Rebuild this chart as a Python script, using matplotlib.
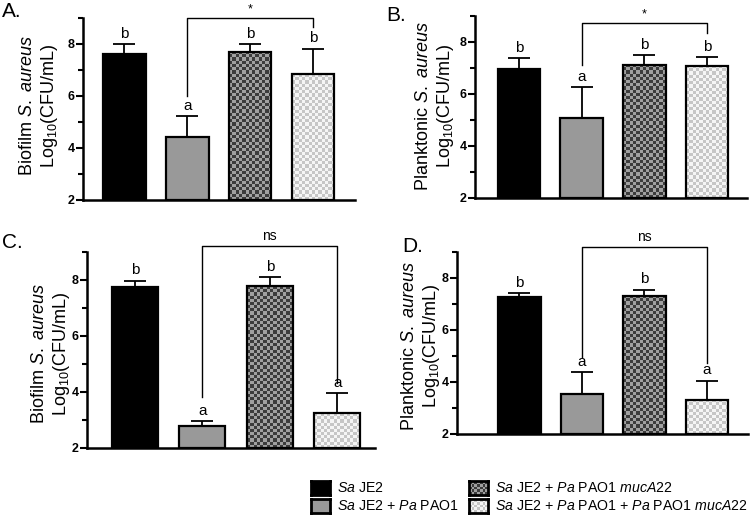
import matplotlib
matplotlib.use('Agg')
import matplotlib.pyplot as plt
import numpy as np
from matplotlib.colors import ListedColormap
from matplotlib.patches import Rectangle

plt.rcParams['font.family'] = ['Liberation Sans', 'DejaVu Sans']
plt.rcParams['mathtext.fontset'] = 'custom'
plt.rcParams['mathtext.rm'] = 'Liberation Sans'
plt.rcParams['mathtext.it'] = 'Liberation Sans:italic'
plt.rcParams['mathtext.bf'] = 'Liberation Sans:bold'

# data
groups = ['$\\mathit{Sa}$ JE2',
          '$\\mathit{Sa}$ JE2 + $\\mathit{Pa}$ PAO1',
          '$\\mathit{Sa}$ JE2 + $\\mathit{Pa}$ PAO1 $\\mathit{mucA22}$',
          '$\\mathit{Sa}$ JE2 + $\\mathit{Pa}$ PAO1 + $\\mathit{Pa}$ PAO1 $\\mathit{mucA22}$']

mean_A = [7.62, 4.44, 7.70, 6.84]
err_A = [0.38, 0.78, 0.30, 0.97]
mean_B = [6.96, 5.08, 7.12, 7.08]
err_B = [0.42, 1.19, 0.38, 0.34]
mean_C = [7.75, 2.79, 7.78, 3.25]
err_C = [0.22, 0.17, 0.32, 0.71]
mean_D = [7.27, 3.54, 7.31, 3.31]
err_D = [0.15, 0.84, 0.23, 0.73]

letters_A = ['b', 'a', 'b', 'b']
letters_B = ['b', 'a', 'b', 'b']
letters_C = ['b', 'a', 'b', 'a']
letters_D = ['b', 'a', 'b', 'a']

# bracket: (left bar, right bar, left foot, top, right foot, label)
bracket_A = (1, 3, 6.0, 9.0, 8.65, '*')
bracket_B = (1, 3, 7.1, 8.73, 8.35, '*')
bracket_C = (1, 3, 3.82, 9.21, 4.32, 'ns')
bracket_D = (1, 3, 4.96, 9.19, 4.73, 'ns')

ylabel_biofilm = 'Biofilm $\\mathit{S.\\ aureus}$\nLog$_{10}$(CFU/mL)'
ylabel_plank = 'Planktonic $\\mathit{S.\\ aureus}$\nLog$_{10}$(CFU/mL)'

W, H = 750, 515
fig = plt.figure(figsize=(W / 100, H / 100), dpi=100)

fills = [('solid', '#000000'), ('solid', '#999999'),
         ('check', ('#3c3c3c', '#a0a0a0')), ('check', ('#c6c6c6', '#f5f5f5'))]


def px_axes(left, top, right, bottom):
    return fig.add_axes([left / W, 1 - bottom / H, (right - left) / W, (bottom - top) / H])


def checker(ax, x0, y0, w, h, colors, cell=3.2, clip=None, z=2):
    p0 = ax.transData.transform((x0, y0))
    p1 = ax.transData.transform((x0 + w, y0 + h))
    nx = max(1, int(round(abs(p1[0] - p0[0]) / cell)))
    ny = max(1, int(round(abs(p1[1] - p0[1]) / cell)))
    grid = np.add.outer(np.arange(ny), np.arange(nx)) % 2
    im = ax.imshow(grid, cmap=ListedColormap(list(colors)), extent=(x0, x0 + w, y0, y0 + h),
                   aspect='auto', interpolation='nearest', zorder=z, origin='lower')
    if clip is not None:
        im.set_clip_path(clip)
    return im


def panel(box, xlim, means, errs, letters, bracket, ylabel, label_xy, tag, tag_xy):
    ax = px_axes(*box)
    ax.set_xlim(*xlim)
    ax.set_ylim(2, 9)
    x = np.arange(4)
    width = 0.68
    bars = ax.bar(x, [m - 2 for m in means], width, bottom=2, color='none',
                  edgecolor='black', linewidth=1.6, zorder=3)
    for b, (kind, col) in zip(bars, fills):
        if kind == 'solid':
            b.set_facecolor(col)
        else:
            checker(ax, b.get_x(), b.get_y(), b.get_width(), b.get_height(), col, clip=b)
    ax.set_xlim(*xlim)
    ax.set_ylim(2, 9)
    ax.errorbar(x, means, yerr=[np.zeros(4), errs], fmt='none', ecolor='black',
                elinewidth=1.3, capsize=8, capthick=1.3, zorder=2)
    for xi, m, e, t in zip(x, means, errs, letters):
        ax.annotate(t, (xi, m + e), xytext=(0, 2.5), textcoords='offset points',
                    ha='center', va='bottom', fontsize=11)
    i, j, yl, yt, yr, s = bracket
    ax.plot([i, i, j, j], [yl, yt, yt, yr], color='black', lw=1.0, clip_on=False, zorder=4)
    ax.annotate(s, ((i + j) / 2, yt), xytext=(0, 2), textcoords='offset points',
                ha='center', va='bottom', fontsize=10 if s == 'ns' else 9,
                annotation_clip=False)
    for sp in ['top', 'right']:
        ax.spines[sp].set_visible(False)
    for sp in ['left', 'bottom']:
        ax.spines[sp].set_linewidth(1.8)
    ax.set_xticks([])
    ax.set_yticks([2, 4, 6, 8])
    ax.set_yticks([3, 5, 7, 9], minor=True)
    ax.tick_params(axis='y', which='major', length=5, width=1.5, labelsize=9, pad=1)
    ax.tick_params(axis='y', which='minor', length=3.5, width=1.5)
    for lab in ax.get_yticklabels():
        lab.set_fontweight('bold')
    fig.text(label_xy[0] / W, 1 - label_xy[1] / H, ylabel, rotation=90, ha='center',
             va='center', multialignment='center', fontsize=13, linespacing=1.2)
    fig.text(tag_xy[0] / W, 1 - tag_xy[1] / H, tag, fontsize=15, ha='left', va='top')
    return ax


panel((83, 18, 355, 200), (-0.66, 3.67), mean_A, err_A, letters_A, bracket_A,
      ylabel_biofilm, (39, 106), 'A.', (2, 2))
panel((475, 16, 747, 198), (-0.70, 3.64), mean_B, err_B, letters_B, bracket_B,
      ylabel_plank, (436, 106), 'B.', (386, 6))
panel((87, 252, 375, 448), (-0.71, 3.56), mean_C, err_C, letters_C, bracket_C,
      ylabel_biofilm, (51, 354), 'C.', (2, 233))
panel((457, 252, 748, 434), (-1.0, 3.66), mean_D, err_D, letters_D, bracket_D,
      ylabel_plank, (421, 346), 'D.', (402, 237))

# legend drawn by hand so the checker squares look like the bars
leg_pos = [(311, 488), (311, 506), (469, 488), (469, 506)]
for (lx, ly), (kind, col), name in zip(leg_pos, fills, groups):
    sq = px_axes(lx, ly - 7, lx + 19, ly + 7)
    sq.set_xlim(0, 1)
    sq.set_ylim(0, 1)
    if kind == 'solid':
        sq.add_patch(Rectangle((0, 0), 1, 1, color=col))
    else:
        checker(sq, 0, 0, 1, 1, col, cell=2.8)
        sq.set_xlim(0, 1)
        sq.set_ylim(0, 1)
    sq.set_xticks([])
    sq.set_yticks([])
    for sp in sq.spines.values():
        sp.set_linewidth(2.0)
    fig.text((lx + 26) / W, 1 - ly / H, name, fontsize=10.2, ha='left', va='center')

fig.savefig('out.png', dpi=100)
